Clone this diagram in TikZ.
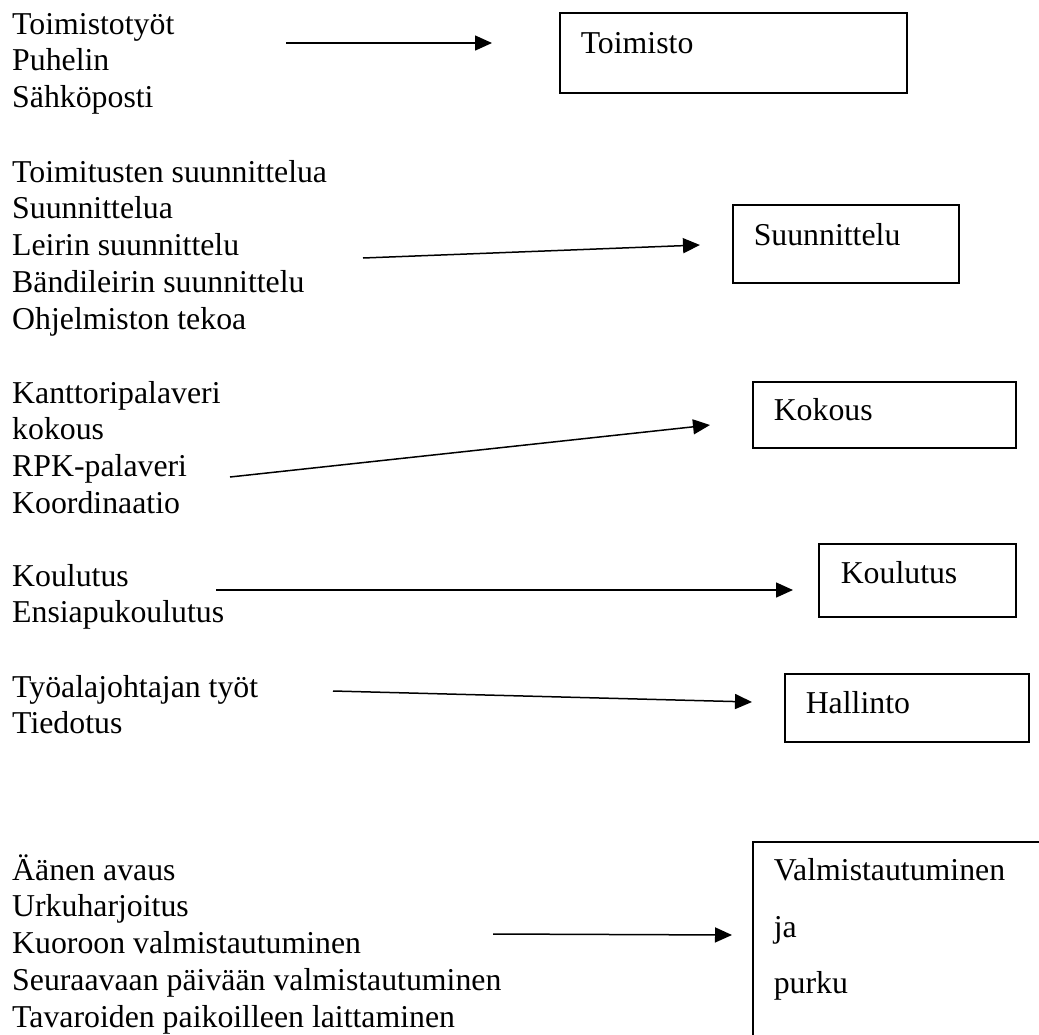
\documentclass[tikz,border=0pt]{standalone}
\usepackage{fontspec}
\setmainfont{Liberation Serif}
\usetikzlibrary{arrows.meta}
\begin{document}
\begin{tikzpicture}[x=1pt,y=-1pt,
  every node/.style={font=\fontsize{31.8}{36.8}\selectfont},
  lefttext/.style={anchor=base west, inner sep=0pt, align=left},
  catbox/.style={draw, line width=1.5pt, anchor=north west, inner xsep=21pt,
    inner ysep=0pt, align=left},
  link/.style={line width=1.5pt, -{Triangle[length=17pt,width=15pt]}}]
\useasboundingbox (0,0) rectangle (1039,1034);

% task lists on the left (placed by the baseline of their last line)
\node[lefttext] (office) at (12,107.6) {Toimistotyöt\\Puhelin\\Sähköposti};
\node[lefttext] (planning) at (12,329.2) {Toimitusten suunnittelua\\Suunnittelua\\Leirin suunnittelu\\Bändileirin suunnittelu\\Ohjelmiston tekoa};
\node[lefttext] (meetings) at (12,513.4) {Kanttoripalaveri\\kokous\\RPK-palaveri\\Koordinaatio};
\node[lefttext] (training) at (12,622.8) {Koulutus\\Ensiapukoulutus};
\node[lefttext] (admin) at (12,733.8) {Työalajohtajan työt\\Tiedotus};
\node[lefttext] (prep) at (12,1027.2) {Äänen avaus\\Urkuharjoitus\\Kuoroon valmistautuminen\\Seuraavaan päivään valmistautuminen\\Tavaroiden paikoilleen laittaminen};

% category boxes on the right
\node[catbox, text width=305pt, text height=41pt, text depth=39pt] (toimisto) at (559,12) {Toimisto};
\node[catbox, text width=184pt, text height=41pt, text depth=37pt] (suunnittelu) at (732,204) {Suunnittelu};
\node[catbox, text width=221pt, text height=39pt, text depth=27pt] (kokous) at (752,381) {Kokous};
\node[catbox, inner xsep=22pt, text width=153pt, text height=40pt, text depth=33pt] (koulutus) at (818,543) {Koulutus};
\node[catbox, text width=202pt, text height=40pt, text depth=28pt] (hallinto) at (784,673) {Hallinto};
\begin{scope}
  \clip (0,0) rectangle (1039,1034);
  \node[catbox, text width=288pt, text height=39pt, text depth=240pt,
    font=\fontsize{31.8}{56.5}\selectfont] (valm) at (752,841) {Valmistautuminen\\ja\\purku};
\end{scope}

% arrow end points
\coordinate (s1) at (286,43);  \coordinate (e1) at (492,43);
\coordinate (s2) at (363,258); \coordinate (e2) at (700,245);
\coordinate (s3) at (230,477); \coordinate (e3) at (710,425);
\coordinate (s4) at (216,590); \coordinate (e4) at (793,590);
\coordinate (s5) at (333,691); \coordinate (e5) at (752,702);
\coordinate (s6) at (493,934); \coordinate (e6) at (732,935);

\draw[link] (s1) -- (e1);
\draw[link] (s2) -- (e2);
\draw[link] (s3) -- (e3);
\draw[link] (s4) -- (e4);
\draw[link] (s5) -- (e5);
\draw[link] (s6) -- (e6);
\end{tikzpicture}
\end{document}
